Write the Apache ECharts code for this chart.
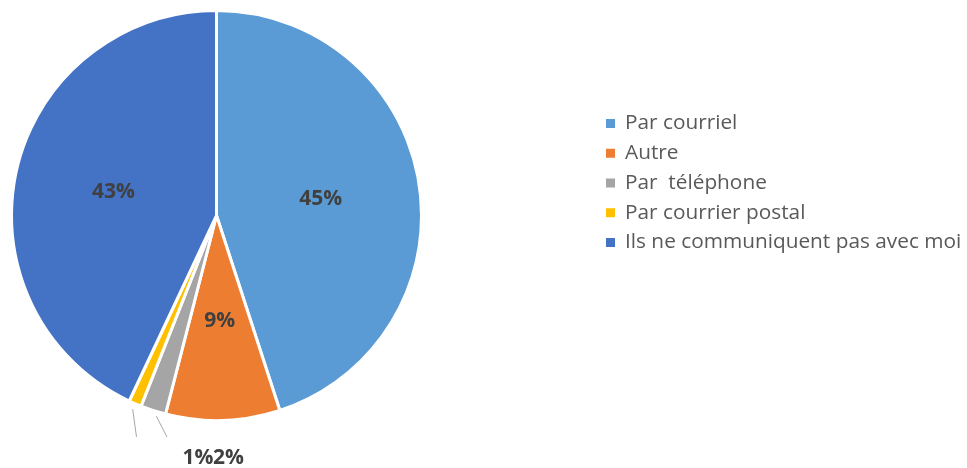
<!DOCTYPE html>
<html>
<head>
<meta charset="utf-8">
<script src="https://cdn.jsdelivr.net/npm/echarts@6/dist/echarts.min.js"></script>
<style>
  html, body { margin: 0; padding: 0; background: #fff; }
  #chart { width: 967px; height: 468px; }
</style>
</head>
<body>
<div id="chart"></div>
<script>
const categories = ['Par courriel', 'Autre', 'Par  téléphone', 'Par courrier postal', 'Ils ne communiquent pas avec moi'];
const values = [45, 9, 2, 1, 43];
const colors = ['#5B9BD5', '#ED7D31', '#A5A5A5', '#FFC000', '#4472C4'];

const cx = 216.5, cy = 215.5, radius = 205;
const fontFamily = '"Open Sans", "Noto Sans", sans-serif';

// small slices get their labels below the pie, side by side
const outsideLabel = { 2: 1, 3: 0 };

const chartDom = document.getElementById('chart');
const myChart = echarts.init(chartDom);

const option = {
    animation: false,
    legend: {
        orient: 'vertical',
        left: 599,
        top: 108,
        icon: 'rect',
        itemWidth: 11,
        itemHeight: 11,
        itemGap: 8.75,
        selectedMode: false,
        textStyle: {
            fontFamily: fontFamily,
            fontSize: 20.8,
            lineHeight: 20,
            color: '#595959',
            padding: [0, 0, 0, 4]
        },
        data: categories
    },
    series: [
        {
            type: 'pie',
            center: [cx, cy],
            radius: [0, radius],
            startAngle: 90,
            clockwise: true,
            avoidLabelOverlap: false,
            itemStyle: {
                borderColor: '#fff',
                borderWidth: 3
            },
            label: {
                show: true,
                position: 'inside',
                formatter: '{c}%',
                fontFamily: fontFamily,
                fontSize: 21,
                fontWeight: 'bold',
                color: '#404040'
            },
            labelLine: { show: false },
            labelLayout: function (params) {
                const slot = outsideLabel[params.dataIndex];
                if (slot === undefined || !params.labelLinePoints) return {};
                const p0 = params.labelLinePoints[0];
                const dx = p0[0] - cx, dy = p0[1] - cy;
                const len = Math.sqrt(dx * dx + dy * dy);
                const start = [p0[0] + dx / len * 6 + slot * 5, p0[1] + dy / len * 6];
                const labelLeft = cx - 34 + slot * 30.5;
                const labelY = cy + radius + 37.5;
                return {
                    x: labelLeft,
                    y: labelY,
                    align: 'left',
                    verticalAlign: 'middle',
                    labelLinePoints: [start, [labelLeft - 46, labelY - 21], [labelLeft - 46, labelY - 21]]
                };
            },
            data: categories.map((name, i) => {
                const d = { name: name, value: values[i], itemStyle: { color: colors[i] } };
                if (outsideLabel[i] !== undefined) {
                    d.label = { position: 'outside' };
                    d.labelLine = { show: true, length: 10, length2: 10, lineStyle: { color: '#A6A6A6', width: 1 } };
                }
                return d;
            })
        }
    ]
};

myChart.setOption(option);
</script>
</body>
</html>
